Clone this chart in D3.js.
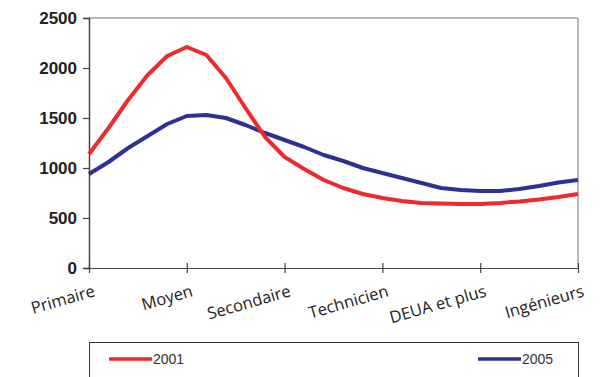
<!DOCTYPE html>
<html>
<head>
<meta charset="utf-8">
<script src="https://cdn.jsdelivr.net/npm/d3@7"></script>
<style>
  body { margin: 0; background: #fff; }
  svg { display: block; }
</style>
</head>
<body>
<script>
var width = 608, height = 377;

// categories on the x axis
var categories = ["Primaire", "Moyen", "Secondaire", "Technicien", "DEUA et plus", "Ingénieurs"];
var yTicks = [0, 500, 1000, 1500, 2000, 2500];

// curve, every 0.2 of a category step
var steps = [0, 0.2, 0.4, 0.6, 0.8, 1, 1.2, 1.4, 1.6, 1.8, 2, 2.2, 2.4, 2.6, 2.8, 3, 3.2, 3.4, 3.6, 3.8, 4, 4.2, 4.4, 4.6, 4.8, 5];
var values2001 = [1140, 1400, 1680, 1930, 2120, 2210, 2130, 1900, 1600, 1310, 1110, 990, 880, 800, 740, 700, 670, 650, 645, 640, 640, 650, 665, 685, 710, 740];
var values2005 = [940, 1060, 1200, 1320, 1440, 1520, 1530, 1500, 1430, 1350, 1280, 1210, 1130, 1070, 1000, 950, 900, 850, 800, 780, 770, 770, 790, 820, 855, 880];

var color1 = "#ee2a2e";
var color2 = "#2e3192";

var plotLeft = 89, plotRight = 578, plotTop = 18, plotBottom = 268;

var svg = d3.select("body").append("svg")
    .attr("width", width)
    .attr("height", height);

var x = d3.scaleLinear().domain([0, categories.length - 1]).range([plotLeft, plotRight]);
var y = d3.scaleLinear().domain([0, 2500]).range([plotBottom, plotTop]);

// frame top and right
svg.append("path")
    .attr("d", "M" + plotLeft + "," + plotTop + "H" + plotRight + "V" + plotBottom)
    .attr("fill", "none")
    .attr("stroke", "#777")
    .attr("stroke-width", 1);

// y axis
var yAxis = svg.append("g")
    .attr("transform", "translate(" + plotLeft + ",0)")
    .call(d3.axisLeft(y).tickValues(yTicks).tickFormat(d3.format("d")).tickSize(6).tickPadding(6));
yAxis.select(".domain").attr("stroke", "#444").attr("stroke-width", 1.5);
yAxis.selectAll(".tick line").attr("stroke", "#444").attr("stroke-width", 1.2);
yAxis.selectAll("text")
    .attr("font-family", "Liberation Sans, Arial, sans-serif")
    .attr("font-weight", "bold")
    .style("font-size", "17px")
    .attr("fill", "#222");

// x axis, ticks cross the line
var xAxis = svg.append("g")
    .attr("transform", "translate(0," + plotBottom + ")")
    .call(d3.axisBottom(x).tickValues(d3.range(categories.length)).tickSizeInner(5).tickSizeOuter(0).tickFormat(""));
xAxis.select(".domain").attr("stroke", "#444").attr("stroke-width", 1.2);
xAxis.selectAll(".tick line").attr("y1", -5).attr("stroke", "#444").attr("stroke-width", 1.2);

svg.selectAll(".xlabel")
    .data(categories)
    .enter().append("text")
    .attr("class", "xlabel")
    .attr("transform", function(d, i) { return "translate(" + (x(i) + 7) + ",296) rotate(-16)"; })
    .attr("text-anchor", "end")
    .attr("font-family", "Open Sans, sans-serif")
    .style("font-size", "16.5px")
    .attr("fill", "#222")
    .text(function(d) { return d; });

// lines
var line = d3.line()
    .x(function(d) { return x(d[0]); })
    .y(function(d) { return y(d[1]); })
    .curve(d3.curveLinear);

svg.append("path")
    .datum(d3.zip(steps, values2005))
    .attr("d", line)
    .attr("fill", "none")
    .attr("stroke", color2)
    .attr("stroke-width", 4)
    .attr("stroke-linejoin", "round");

svg.append("path")
    .datum(d3.zip(steps, values2001))
    .attr("d", line)
    .attr("fill", "none")
    .attr("stroke", color1)
    .attr("stroke-width", 4)
    .attr("stroke-linejoin", "round");

// legend box, cut by bottom of picture
svg.append("rect")
    .attr("x", 89.5)
    .attr("y", 342.5)
    .attr("width", 489)
    .attr("height", 50)
    .attr("fill", "none")
    .attr("stroke", "#333")
    .attr("stroke-width", 1);

var legend = [{name: "2001", color: color1, x: 109}, {name: "2005", color: color2, x: 478}];
legend.forEach(function(d) {
    svg.append("line")
        .attr("x1", d.x).attr("x2", d.x + 43)
        .attr("y1", 359).attr("y2", 359)
        .attr("stroke", d.color)
        .attr("stroke-width", 3.5);
    svg.append("text")
        .attr("x", d.x + 44)
        .attr("y", 364)
        .attr("font-family", "Liberation Sans, Arial, sans-serif")
        .style("font-size", "14px")
        .attr("fill", "#333")
        .text(d.name);
});
</script>
</body>
</html>
